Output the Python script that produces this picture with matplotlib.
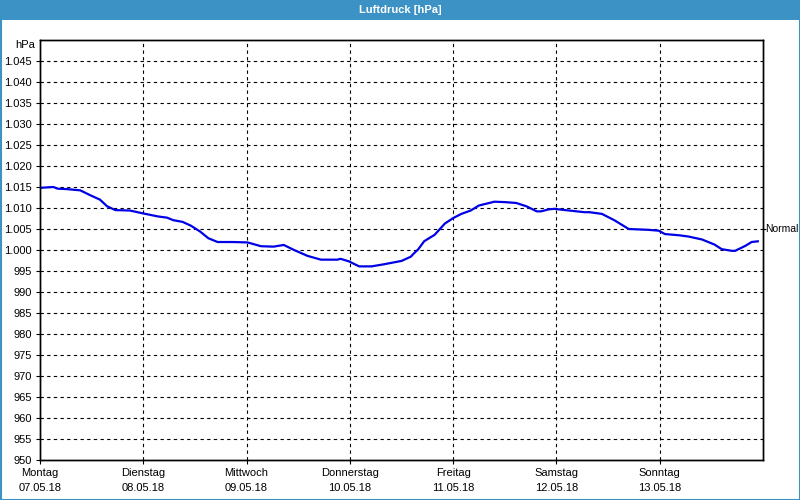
import matplotlib
matplotlib.use("Agg")
import matplotlib.pyplot as plt
import numpy as np

# x in days since Montag 07.05.18 00:00, y in hPa
days = [0.0, 0.13, 0.17, 0.26, 0.39, 0.49, 0.58, 0.65, 0.73, 0.87, 1.0, 1.14, 1.23,
        1.29, 1.38, 1.46, 1.55, 1.63, 1.72, 1.87, 2.01, 2.14, 2.26, 2.36, 2.46, 2.59,
        2.72, 2.88, 2.91, 2.99, 3.09, 3.21, 3.33, 3.50, 3.59, 3.62, 3.66, 3.72, 3.82,
        3.92, 4.0, 4.08, 4.17, 4.25, 4.40, 4.50, 4.61, 4.71, 4.81, 4.85, 4.93, 4.98,
        5.05, 5.27, 5.32, 5.44, 5.56, 5.70, 5.89, 5.99, 6.05, 6.19, 6.28, 6.41, 6.53,
        6.60, 6.70, 6.73, 6.83, 6.89, 6.96]
pressure = [1014.8, 1015.0, 1014.6, 1014.5, 1014.2, 1013.0, 1012.0, 1010.4, 1009.5,
            1009.4, 1008.7, 1008.0, 1007.7, 1007.1, 1006.7, 1005.8, 1004.4, 1002.8,
            1001.9, 1001.9, 1001.8, 1000.9, 1000.8, 1001.2, 1000.0, 998.6, 997.7,
            997.7, 997.9, 997.3, 996.1, 996.1, 996.6, 997.4, 998.4, 999.2, 1000.1,
            1002.1, 1003.6, 1006.3, 1007.6, 1008.6, 1009.4, 1010.6, 1011.5, 1011.4,
            1011.2, 1010.4, 1009.2, 1009.2, 1009.7, 1009.8, 1009.6, 1009.0, 1009.0,
            1008.6, 1007.1, 1005.0, 1004.8, 1004.6, 1003.8, 1003.5, 1003.2, 1002.5,
            1001.3, 1000.2, 999.8, 999.8, 1001.0, 1001.9, 1002.1]

day_names = ["Montag", "Dienstag", "Mittwoch", "Donnerstag", "Freitag", "Samstag", "Sonntag"]
dates = ["07.05.18", "08.05.18", "09.05.18", "10.05.18", "11.05.18", "12.05.18", "13.05.18"]
y_ticks = list(range(950, 1050, 5))
normal_value = 1005
normal_label = "Normal"
title = "Luftdruck [hPa]"
unit = "hPa"

W, H = 800, 500
plt.rcParams['font.family'] = ['Liberation Sans', 'DejaVu Sans']
fig = plt.figure(figsize=(8, 5), dpi=100)
fig.patch.set_facecolor("white")

blue = "#3c92c4"
FS = 8
# title bar
fig.patches.append(plt.Rectangle((0, 1 - 20 / H), 1, 20 / H, transform=fig.transFigure,
                                 facecolor=blue, edgecolor="none", zorder=0))
# frame border
fig.patches.append(plt.Rectangle((0.5 / W, 0.5 / H), 1 - 1 / W, 1 - 1 / H,
                                 transform=fig.transFigure, facecolor="none",
                                 edgecolor=blue, linewidth=1.5, zorder=0))
fig.text(0.5, 1 - 10 / H, title, color="white", fontsize=FS, fontweight="bold",
         ha="center", va="center")

ax = fig.add_axes([40 / W, 1 - 460 / H, 723 / W, 420 / H])
ax.set_xlim(0, 7)
ax.set_ylim(950, 1050)

ax.plot(days, pressure, color="#0000e6", linewidth=1.6, solid_capstyle="butt", zorder=3)

def fmt(v):
    if v >= 1000:
        return "1.%03d" % (v - 1000)
    return str(v)

ax.set_yticks(y_ticks)
ax.set_yticklabels([fmt(v) for v in y_ticks], fontsize=FS)
ax.set_xticks(range(len(day_names)))
ax.set_xticklabels([f"{d}\n{t}" for d, t in zip(day_names, dates)], fontsize=FS,
                   linespacing=1.6)
ax.tick_params(axis="both", length=3, width=0.8, color="black", pad=3)

# grid
for v in y_ticks[1:]:
    ax.axhline(v, color="black", linestyle=(0, (3, 3)), linewidth=0.8, zorder=1)
for d in range(1, 7):
    ax.axvline(d, color="black", linestyle=(0, (3, 3)), linewidth=0.8, zorder=1)

for s in ax.spines.values():
    s.set_linewidth(1.0)
    s.set_color("black")

# Normal marker on right
ax2 = ax.twinx()
ax2.set_ylim(950, 1050)
ax2.set_yticks([normal_value])
ax2.set_yticklabels([""])
ax2.tick_params(axis="y", length=2, width=0.8, pad=0)
for s in ax2.spines.values():
    s.set_linewidth(1.0)
ax2.annotate(normal_label, xy=(1, normal_value), xycoords=("axes fraction", "data"),
             xytext=(2, 0), textcoords="offset pixels", fontsize=7.5,
             ha="left", va="center", annotation_clip=False)

fig.text(35 / W, 1 - 45 / H, unit, fontsize=FS, ha="right", va="center")

fig.savefig("out.png", dpi=100)
